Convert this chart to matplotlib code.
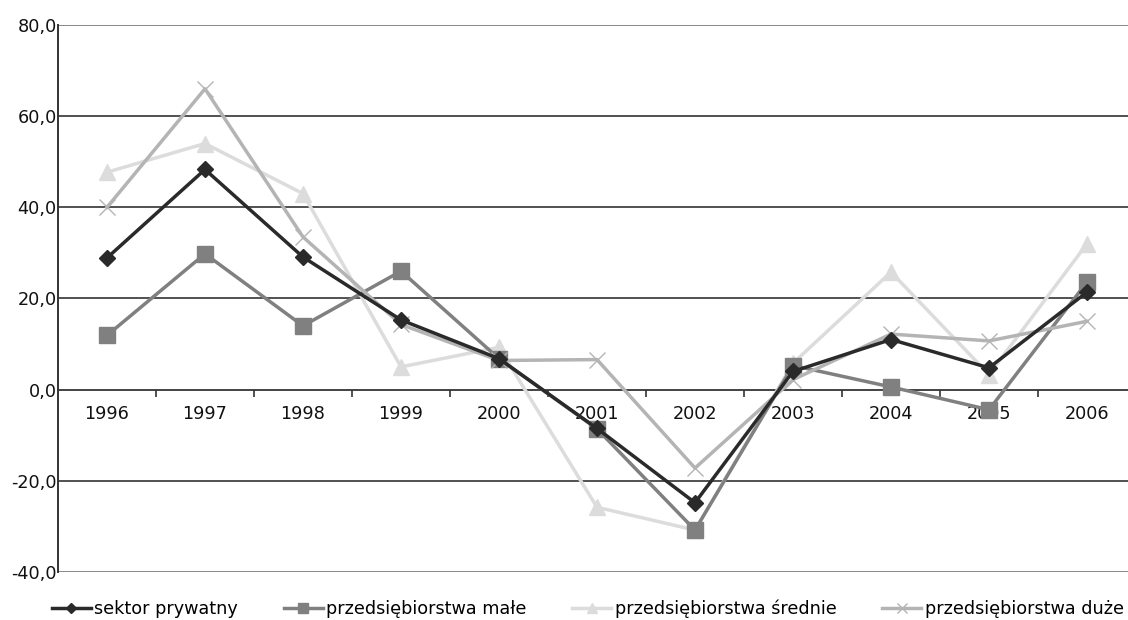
import matplotlib.pyplot as plt
from matplotlib.ticker import FuncFormatter, FixedLocator

plt.rcParams["font.family"] = ["DejaVu Sans"]

years = ["1996", "1997", "1998", "1999", "2000", "2001",
         "2002", "2003", "2004", "2005", "2006"]

sektor_prywatny = [28.9, 48.3, 29.1, 15.3, 6.8, -8.5, -24.8, 4.0, 11.0, 4.8, 21.4]
male = [11.9, 29.8, 14.0, 26.0, 6.8, -8.6, -30.8, 5.3, 0.6, -4.4, 23.6]
srednie = [47.7, 54.0, 43.0, 5.0, 9.3, -25.8, -30.8, 5.8, 25.8, 3.3, 32.0]
duze = [40.0, 66.0, 33.5, 14.3, 6.4, 6.6, -17.2, 2.2, 12.2, 10.7, 15.0]

x = list(range(len(years)))

fig = plt.figure(figsize=(11.28, 6.2), dpi=100)
ax = fig.add_axes([0.0514, 0.0774, 0.9557, 0.8823])

# siatka pozioma
for v in [60, 40, 20, -20]:
    ax.axhline(v, color="#222222", lw=1.1, zorder=1)
for v in [80, -40]:
    ax.axhline(v, color="#888888", lw=1.4, zorder=1)

ax.plot(x, sektor_prywatny, color="#2a2a2a", lw=2.5, marker="D", ms=8,
        label="sektor prywatny", zorder=5)
ax.plot(x, male, color="#808080", lw=2.5, marker="s", ms=12,
        label="przedsiębiorstwa małe", zorder=3)
ax.plot(x, srednie, color="#dcdcdc", lw=2.5, marker="^", ms=12,
        label="przedsiębiorstwa średnie", zorder=2)
ax.plot(x, duze, color="#b4b4b4", lw=2.5, marker="x", ms=11, mew=1.0,
        label="przedsiębiorstwa duże", zorder=4)

ax.set_xlim(-0.5, 10.5)
ax.set_ylim(-40, 80)

ax.spines["top"].set_visible(False)
ax.spines["right"].set_visible(False)
ax.spines["left"].set_color("#333333")
ax.spines["left"].set_linewidth(1.4)
ax.spines["bottom"].set_position(("data", 0))
ax.spines["bottom"].set_color("#222222")
ax.spines["bottom"].set_linewidth(1.2)
ax.spines["bottom"].set_zorder(1)

ax.set_xticks(x)
ax.set_xticklabels(years, fontsize=12.7, color="#111111")
ax.xaxis.set_minor_locator(FixedLocator([i + 0.5 for i in range(10)]))
ax.tick_params(axis="x", which="major", length=0, pad=11)
ax.tick_params(axis="x", which="minor", length=5, width=1.2, color="#333333", direction="out")

ax.set_yticks([-40, -20, 0, 20, 40, 60, 80])
ax.yaxis.set_major_formatter(FuncFormatter(lambda v, p: f"{v:.1f}".replace(".", ",")))
ax.tick_params(axis="y", length=0, pad=1, labelsize=12.7, labelcolor="#111111")

ax.legend(loc="lower center", bbox_to_anchor=(0.521, -0.022), bbox_transform=fig.transFigure,
          ncol=4, frameon=False, fontsize=12.7, handlelength=2.2, handletextpad=0.2,
          columnspacing=2.6, markerscale=0.6)

fig.savefig("out.png", dpi=100)
